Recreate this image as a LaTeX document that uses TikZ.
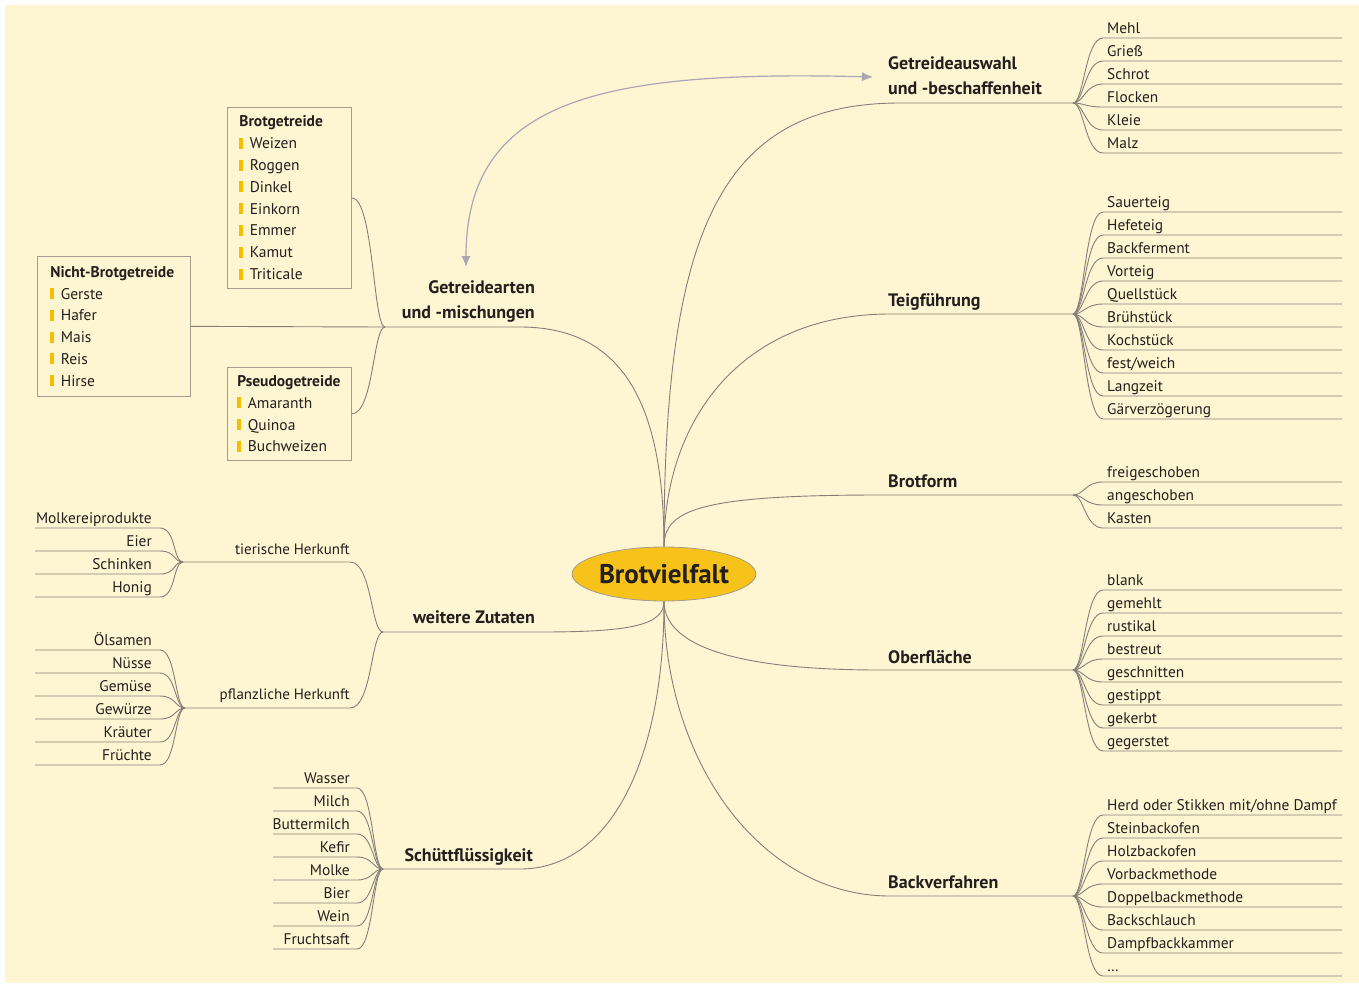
\documentclass[tikz,border=0pt]{standalone}
\usepackage{fontspec}
\setmainfont{PT Sans}
\usetikzlibrary{arrows, arrows.meta, shapes.geometric, calc, positioning}
\definecolor{bgyellow}{HTML}{FEF6D3}
\definecolor{linegray}{HTML}{857F78}
\definecolor{boxgray}{HTML}{A39C90}
\definecolor{arrowgray}{HTML}{AAA6B4}
\definecolor{coreyellow}{HTML}{F7C31B}
\definecolor{baryellow}{HTML}{F6BE00}
\definecolor{inkdark}{HTML}{231F1C}
\tikzset{
    branch/.style={draw=linegray, line width=0.9pt},
    linkArrow/.style={{Latex[length=11pt, width=9pt]}-{Latex[length=11pt, width=9pt]}, draw=arrowgray, line width=1.2pt},
    core/.style={ellipse, draw=boxgray, fill=coreyellow, line width=0.8pt, minimum width=182pt, minimum height=54pt, inner sep=0pt, text=inkdark, font=\bfseries\fontsize{27}{30}\selectfont},
    mainLabel/.style={inner sep=0pt, text=inkdark, font=\bfseries\fontsize{18}{25}\selectfont},
    subLabel/.style={inner sep=0pt, text=inkdark, font=\fontsize{15}{18}\selectfont},
    item/.style={inner sep=0pt, text=inkdark, font=\fontsize{15.4}{18}\selectfont},
    grainbox/.style={draw=boxgray, fill=bgyellow, line width=0.7pt, align=left, inner ysep=0pt, text=inkdark, font=\fontsize{15.5}{21.8}\selectfont},
}
\newcommand{\gbar}{\textcolor{baryellow}{\rule{3.5pt}{11pt}}\hspace{7pt}}
% fan of underlined items to the right of (#1-o)
\newcommand{\fanRight}[3]{
    \foreach \t [count=\i] in {#3} {
        \pgfmathsetmacro{\yy}{#2+23*(\i-1)}
        \coordinate (#1-\i-l) at (1103,\yy);
        \coordinate (#1-\i-r) at (1342,\yy);
        \node[item, anchor=base west] (#1-\i) at (1107,\yy-5) {\t};
        \draw[branch] (#1-o) .. controls +(11,0) and +(-18,0) .. (#1-\i-l) -- (#1-\i-r);
    }
}
% fan of underlined items to the left of (#1-o)
\newcommand{\fanLeft}[6]{
    \foreach \t [count=\i] in {#6} {
        \pgfmathsetmacro{\yy}{#2+23*(\i-1)}
        \coordinate (#1-\i-l) at (#3,\yy);
        \coordinate (#1-\i-r) at (#4,\yy);
        \node[item, anchor=base east] (#1-\i) at (#5,\yy-5) {\t};
        \draw[branch] (#1-o) .. controls +(-10,0) and +(16,0) .. (#1-\i-r) -- (#1-\i-l);
    }
}

\begin{document}
\begin{tikzpicture}[x=1pt, y=-1pt]

    \useasboundingbox (0,0) rectangle (1359,983);
    \fill[white] (0,0) rectangle (1359,983);
    \fill[bgyellow] (5,5) rectangle (1359,983);

    \node[core] (brot) at (664,574) {Brotvielfalt};

    % right branches
    \coordinate (gaw-a) at (900,103);  \coordinate (gaw-o) at (1073,103);
    \coordinate (tf-a) at (890,314);   \coordinate (tf-o) at (1073,314);
    \coordinate (bf-a) at (880,495);   \coordinate (bf-o) at (1073,495);
    \coordinate (of-a) at (880,670);   \coordinate (of-o) at (1073,670);
    \coordinate (bv-a) at (890,896);   \coordinate (bv-o) at (1073,896);

    \node[mainLabel, align=left, anchor=south west] (gaw) at (888,95) {Getreideauswahl\\und -beschaffenheit};
    \node[mainLabel, anchor=base west] (tf) at (888,306) {Teigführung};
    \node[mainLabel, anchor=base west] (bf) at (888,487) {Brotform};
    \node[mainLabel, anchor=base west] (of) at (888,663) {Oberfläche};
    \node[mainLabel, anchor=base west] (bv) at (888,888) {Backverfahren};

    \draw[branch] (brot.north) .. controls +(0,-315) and +(-180,0) .. (gaw-a) -- (gaw-o);
    \draw[branch] (brot.north) .. controls +(0,-125) and +(-150,0) .. (tf-a) -- (tf-o);
    \draw[branch] (brot.north) .. controls +(0,-37) and +(-180,0) .. (bf-a) -- (bf-o);
    \draw[branch] (brot.south) .. controls +(0,39) and +(-160,0) .. (of-a) -- (of-o);
    \draw[branch] (brot.south) .. controls +(0,159) and +(-130,0) .. (bv-a) -- (bv-o);

    \fanRight{gaw}{38}{Mehl, Grieß, Schrot, Flocken, Kleie, Malz}
    \fanRight{tf}{212}{Sauerteig, Hefeteig, Backferment, Vorteig, Quellstück, Brühstück, Kochstück, fest/weich, Langzeit, Gärverzögerung}
    \fanRight{bf}{482}{freigeschoben, angeschoben, Kasten}
    \fanRight{of}{590}{blank, gemehlt, rustikal, bestreut, geschnitten, gestippt, gekerbt, gegerstet}
    \fanRight{bv}{815}{Herd oder Stikken mit/ohne Dampf, Steinbackofen, Holzbackofen, Vorbackmethode, Doppelbackmethode, Backschlauch, Dampfbackkammer, \ldots}

    % left branches
    \coordinate (ga-a) at (520,327);   \coordinate (ga-o) at (385,327);
    \coordinate (wz-a) at (540,632);   \coordinate (wz-o) at (383,632);
    \coordinate (sf-a) at (520,869);   \coordinate (sf-o) at (383,869);
    \coordinate (th-a) at (350,562);   \coordinate (th-o) at (183,562);
    \coordinate (ph-a) at (350,708);   \coordinate (ph-o) at (185,708);

    \node[mainLabel, align=right, anchor=south east] (ga) at (535,323) {Getreidearten\\und -mischungen};
    \node[mainLabel, anchor=base east] (wz) at (535,623) {weitere Zutaten};
    \node[mainLabel, anchor=base east] (sf) at (533,861) {Schüttflüssigkeit};
    \node[subLabel, anchor=base east] (th) at (350,554) {tierische Herkunft};
    \node[subLabel, anchor=base east] (ph) at (350,699) {pflanzliche Herkunft};

    \draw[branch] (brot.north) .. controls +(0,-147) and +(100,0) .. (ga-a) -- (ga-o);
    \draw[branch] (brot.south) .. controls +(0,24) and +(90,0) .. (wz-a) -- (wz-o);
    \draw[branch] (brot.south) .. controls +(0,159) and +(90,0) .. (sf-a) -- (sf-o);
    \draw[branch] (wz-o) .. controls +(-12,0) and +(22,0) .. (th-a) -- (th-o);
    \draw[branch] (wz-o) .. controls +(-12,0) and +(22,0) .. (ph-a) -- (ph-o);

    \fanLeft{th}{528}{35}{160}{152}{Molkereiprodukte, Eier, Schinken, Honig}
    \fanLeft{ph}{650}{35}{160}{152}{Ölsamen, Nüsse, Gemüse, Gewürze, Kräuter, Früchte}
    \fanLeft{sf}{788}{273}{357}{350}{Wasser, Milch, Buttermilch, Kefir, Molke, Bier, Wein, Fruchtsaft}

    % grain boxes
    \node[grainbox, inner xsep=12pt, text width=100pt, minimum height=181pt, anchor=north west] (brotg) at (227,107)
        {\textbf{Brotgetreide}\\\gbar Weizen\\\gbar Roggen\\\gbar Dinkel\\\gbar Einkorn\\\gbar Emmer\\\gbar Kamut\\\gbar Triticale};
    \node[grainbox, inner xsep=13pt, text width=127pt, minimum height=140pt, anchor=north west] (nichtg) at (37,256)
        {\textbf{Nicht-Brotgetreide}\\\gbar Gerste\\\gbar Hafer\\\gbar Mais\\\gbar Reis\\\gbar Hirse};
    \node[grainbox, inner xsep=10pt, text width=104pt, minimum height=93pt, anchor=north west] (pseudog) at (227,367)
        {\textbf{Pseudogetreide}\\\gbar Amaranth\\\gbar Quinoa\\\gbar Buchweizen};

    \draw[branch] (ga-o) .. controls +(-12,0) and +(22,0) .. (brotg.east);
    \draw[branch] (ga-o) .. controls +(-12,0) and +(22,0) .. (pseudog.east);
    \draw[branch] (ga-o) -- (nichtg.east);

    % link between the two grain branches
    \coordinate (arrA) at (466,267);
    \coordinate (arrB) at (873,77);
    \draw[linkArrow] (arrA) .. controls +(0,-167) and +(-273,-7) .. (arrB);

\end{tikzpicture}
\end{document}
